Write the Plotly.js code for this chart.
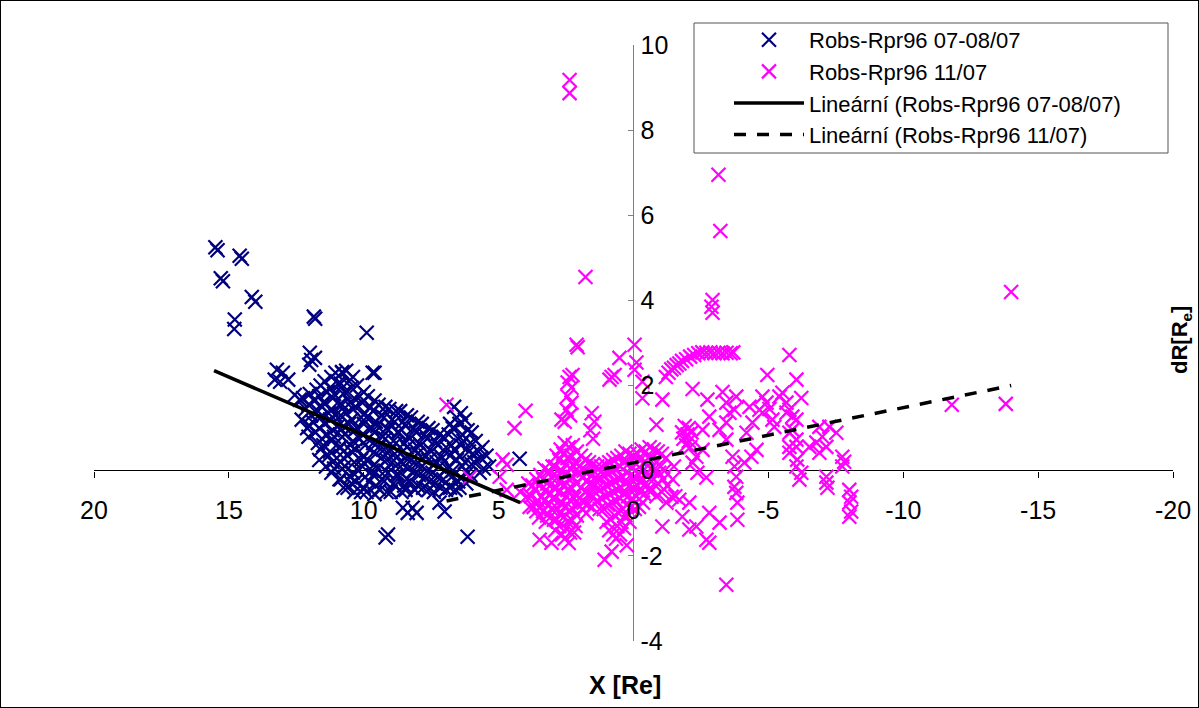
<!DOCTYPE html>
<html>
<head>
<meta charset="utf-8">
<script src="https://cdn.plot.ly/plotly-3.0.1.min.js"></script>
<style>
html,body{margin:0;padding:0;background:#fff;}
#wrap{position:relative;width:1199px;height:708px;}
#chart{width:1199px;height:708px;}
#frame{position:absolute;left:0;top:0;width:1199px;height:708px;box-sizing:border-box;border:1px solid #000;pointer-events:none;}
</style>
</head>
<body>
<div id="wrap"><div id="chart"></div><div id="frame"></div></div>
<script>
// Series 1: Robs-Rpr96 07-08/07 (navy)
const blueX = [
15.50,15.42,14.60,14.52,15.30,15.22,14.15,14.02,14.78,14.80,11.85,11.80,9.89,12.00,11.81,11.95,12.02,
13.22,13.00,13.30,13.10,12.80,12.56,12.37,9.67,10.80,9.60,9.10,9.19,6.15,8.55,8.19,8.37,8.04,7.19,7.00,4.22,
12.25,12.15,12.30,12.10,
11.75,11.85,11.70,11.90,11.80,11.70,
11.45,11.35,11.50,11.30,11.45,11.35,11.50,11.30,11.40,
11.05,10.95,11.10,10.90,11.05,10.95,11.10,10.90,11.00,11.10,10.90,
10.65,10.55,10.70,10.50,10.65,10.55,10.70,10.50,10.60,10.70,10.50,10.60,
10.25,10.15,10.30,10.10,10.25,10.15,10.30,10.10,10.20,10.30,10.10,
9.85,9.75,9.90,9.70,9.85,9.75,9.90,9.70,9.80,9.90,
9.45,9.35,9.50,9.30,9.45,9.35,9.50,9.30,9.40,
9.05,8.95,9.10,8.90,9.05,8.95,9.10,8.90,9.00,
8.65,8.55,8.70,8.50,8.65,8.55,8.70,8.50,8.60,
8.25,8.15,8.30,8.10,8.25,8.15,8.30,8.10,
7.85,7.75,7.90,7.70,7.85,7.75,7.80,
7.45,7.35,7.50,7.30,7.45,7.35,7.40,
7.05,6.95,7.10,6.90,7.05,6.95,
6.65,6.55,6.70,6.50,6.65,6.55,6.70,6.50,6.60,
6.25,6.15,6.30,6.10,6.25,6.15,6.20,
5.85,5.75,5.90,5.70,
5.45,5.35,
12.00,12.05,11.95,12.00,12.05,
11.60,11.65,11.55,11.60,11.65,11.55,11.60,11.65,
11.20,11.25,11.15,11.20,11.25,11.15,11.20,11.25,11.15,11.20,
10.80,10.85,10.75,10.80,10.85,10.75,10.80,10.85,10.75,10.80,10.85,10.75,
10.40,10.45,10.35,10.40,10.45,10.35,10.40,10.45,10.35,10.40,10.45,10.35,
10.00,10.05,9.95,10.00,10.05,9.95,10.00,10.05,9.95,10.00,
9.60,9.65,9.55,9.60,9.65,9.55,9.60,9.65,9.55,9.60,
9.20,9.25,9.15,9.20,9.25,9.15,9.20,9.25,9.15,
8.80,8.85,8.75,8.80,8.85,8.75,8.80,8.85,
8.40,8.45,8.35,8.40,8.45,8.35,8.40,8.45,
8.00,8.05,7.95,8.00,8.05,7.95,8.00,
7.60,7.65,7.55,7.60,7.65,7.55,7.60,
7.20,7.25,7.15,7.20,7.25,7.15,
6.80,6.85,6.75,6.80,6.85,6.75,6.80,
6.40,6.45,6.35,6.40,6.45,6.35,6.40,6.45,
6.00,6.05,5.95,6.00,6.05,
5.60,5.65,5.55
];
const blueY = [
5.25,5.18,5.05,4.98,4.52,4.45,4.08,3.97,3.55,3.33,3.62,3.57,3.24,2.77,2.65,2.60,2.49,
2.37,2.30,2.14,2.09,2.14,1.78,1.67,2.30,2.32,2.30,-1.50,-1.57,-1.55,-0.87,-0.87,-0.99,-0.99,-0.75,-0.96,0.28,
1.70,1.45,1.20,1.00,
1.90,1.65,1.40,1.15,0.90,0.65,
2.10,1.85,1.60,1.35,1.10,0.85,0.60,0.35,0.10,
2.30,2.05,1.80,1.55,1.30,1.05,0.80,0.55,0.30,0.05,-0.20,
2.35,2.10,1.85,1.60,1.35,1.10,0.85,0.60,0.35,0.10,-0.15,-0.40,
2.00,1.75,1.50,1.25,1.00,0.75,0.50,0.25,0.00,-0.25,-0.50,
1.75,1.50,1.25,1.00,0.75,0.50,0.25,0.00,-0.25,-0.50,
1.55,1.30,1.05,0.80,0.55,0.30,0.05,-0.20,-0.45,
1.45,1.20,0.95,0.70,0.45,0.20,-0.05,-0.30,-0.50,
1.40,1.15,0.90,0.65,0.40,0.15,-0.10,-0.35,-0.50,
1.25,1.00,0.75,0.50,0.25,0.00,-0.25,-0.45,
1.10,0.85,0.60,0.35,0.10,-0.15,-0.40,
0.95,0.70,0.45,0.20,-0.05,-0.30,-0.50,
0.80,0.55,0.30,0.05,-0.20,-0.45,
1.50,1.25,1.00,0.75,0.50,0.25,0.00,-0.25,-0.45,
1.20,0.95,0.70,0.45,0.20,-0.05,-0.30,
0.70,0.45,0.20,-0.05,
0.35,0.10,
1.80,1.55,1.30,1.05,0.80,
2.00,1.75,1.50,1.25,1.00,0.75,0.50,0.25,
2.20,1.95,1.70,1.45,1.20,0.95,0.70,0.45,0.20,-0.05,
2.30,2.05,1.80,1.55,1.30,1.05,0.80,0.55,0.30,0.05,-0.20,-0.40,
2.20,1.95,1.70,1.45,1.20,0.95,0.70,0.45,0.20,-0.05,-0.30,-0.50,
1.85,1.60,1.35,1.10,0.85,0.60,0.35,0.10,-0.15,-0.40,
1.65,1.40,1.15,0.90,0.65,0.40,0.15,-0.10,-0.35,-0.55,
1.50,1.25,1.00,0.75,0.50,0.25,0.00,-0.25,-0.50,
1.40,1.15,0.90,0.65,0.40,0.15,-0.10,-0.35,
1.30,1.05,0.80,0.55,0.30,0.05,-0.20,-0.45,
1.15,0.90,0.65,0.40,0.15,-0.10,-0.35,
1.00,0.75,0.50,0.25,0.00,-0.25,-0.45,
0.85,0.60,0.35,0.10,-0.15,-0.40,
1.10,0.85,0.60,0.35,0.10,-0.15,-0.40,
1.35,1.10,0.85,0.60,0.35,0.10,-0.15,-0.40,
0.90,0.65,0.40,0.15,-0.10,
0.55,0.30,0.05
];

// Series 2: Robs-Rpr96 11/07 (magenta)
const pinkX = [
2.37,2.37,-3.15,-3.22,1.78,-2.93,-2.89,-2.93,2.11,2.07,2.37,2.26,2.44,0.52,0.81,0.70,0.89,-0.04,-0.11,-0.04,
-0.33,-0.33,-0.85,-1.07,-2.19,-3.30,-4.96,-5.78,-6.04,-6.22,-11.80,-13.80,-14.00,-3.44,1.07,0.81,3.48,3.04,
6.93,4.00,4.41,4.85,4.70,4.96,6.07,4.70,2.48,2.67,2.55,
-1.20,-1.30,-1.40,-1.50,-1.60,-1.70,-1.80,-1.95,-2.10,-2.25,-2.40,-2.55,-2.70,-2.85,-3.00,-3.15,-3.30,-3.45,-3.60,-3.70,
2.30,2.45,2.30,2.35,1.55,1.45,1.60,1.50,
4.20,3.90,3.95,3.85,3.60,3.65,3.55,3.60,
3.30,3.35,3.25,3.30,3.35,3.25,
3.00,3.05,2.95,3.00,3.05,2.95,
2.70,2.75,2.65,2.70,2.75,2.65,2.70,2.75,2.65,
2.40,2.45,2.35,2.40,2.45,2.35,2.40,2.45,2.35,2.40,
2.10,2.15,2.05,2.10,2.15,2.05,2.10,2.15,
1.80,1.85,1.75,1.80,1.85,1.75,
1.50,1.55,1.45,1.50,1.55,
1.20,1.25,1.15,1.20,1.25,
0.90,0.95,0.85,0.90,0.95,0.85,0.90,
0.60,0.65,0.55,0.60,0.65,0.55,0.60,0.65,
0.30,0.35,0.25,0.30,0.35,0.25,0.30,0.35,0.25,
0.00,0.05,-0.05,0.00,0.05,-0.05,
-0.30,-0.25,-0.35,-0.30,-0.25,-0.35,
-0.60,-0.55,-0.65,-0.60,-0.55,
-0.90,-0.85,-0.95,-0.90,-0.85,
-1.20,-1.15,-1.25,
-1.50,-1.45,-1.55,
-1.90,-2.05,-1.80,-2.00,-2.15,-1.85,-2.05,-1.95,-2.10,
-2.74,-2.81,-2.56,-3.19,-3.44,-3.56,-3.74,-3.44,-2.56,-2.33,-4.30,-4.41,-4.67,-4.78,-4.19,-4.11,-4.37,-4.56,-3.44,-3.81,
-3.67,-3.74,-3.81,-3.74,-3.81,-3.85,-3.85,
-2.19,-2.37,-2.70,-1.70,-2.07,-1.81,-2.07,-2.33,-2.70,-2.81,-2.81,-3.19,-1.07,-1.22,-1.41,
-5.41,-5.67,-5.89,-6.04,-5.78,
-4.93,-4.78,-5.04,-5.15,-5.22,-5.52,-5.67,-5.78,-5.89,-6.04,-5.78,-6.04,-5.78,-6.07,-6.04,-6.22,-6.15,
-6.52,-6.78,-7.00,-6.89,-7.26,-7.52,-7.15,-6.89,-7.15,-7.15,-7.19,-7.74,-7.81,-7.74,
-8.00,-8.07,-8.00,-8.07,-8.00,
3.75,3.80,3.70,
3.45,3.50,3.40,3.45,3.50,
3.15,3.20,3.10,3.15,3.20,
2.85,2.90,2.80,2.85,2.90,2.80,2.85,2.90,
2.55,2.60,2.50,2.55,2.60,2.50,2.55,2.60,2.50,2.55,
2.25,2.30,2.20,2.25,2.30,2.20,2.25,2.30,2.20,
1.95,2.00,1.90,1.95,2.00,1.90,
1.65,1.70,1.60,1.65,1.70,
1.35,1.40,1.30,1.35,
1.05,1.10,1.00,1.05,1.10,1.00,
0.75,0.80,0.70,0.75,0.80,0.70,0.75,
0.45,0.50,0.40,0.45,0.50,0.40,0.45,0.50,
0.15,0.20,0.10,0.15,0.20,0.10,0.15,
-0.15,-0.10,-0.20,-0.15,-0.10,-0.20,
-0.45,-0.40,-0.50,-0.45,-0.40,
-0.75,-0.70,-0.80,-0.75,-0.70,
-1.05,-1.00,-1.10,-1.05
];
const pinkY = [
9.18,8.87,6.95,5.63,4.55,4.01,3.85,3.71,2.96,2.90,2.20,2.25,2.07,2.65,2.20,2.25,2.14,2.96,2.54,2.37,
2.09,1.70,1.08,1.67,1.92,1.85,2.25,2.72,2.14,1.71,1.55,1.57,4.20,-2.68,-2.09,-1.90,-1.62,-1.69,
1.55,1.41,1.00,0.26,0.14,-0.14,-0.16,-0.45,1.43,1.20,1.15,
2.20,2.30,2.38,2.42,2.48,2.52,2.58,2.62,2.68,2.72,2.76,2.78,2.77,2.78,2.76,2.77,2.76,2.77,2.76,2.78,
1.95,1.75,1.60,1.30,1.35,1.15,0.95,0.75,
-0.50,-0.30,-0.60,-0.85,-0.20,-0.45,-0.70,-0.95,
0.05,-0.20,-0.45,-0.70,-0.95,-1.20,
0.10,-0.15,-0.40,-0.65,-0.90,-1.15,
0.50,0.25,0.00,-0.25,-0.50,-0.75,-1.00,-1.30,-1.50,
0.55,0.30,0.05,-0.20,-0.45,-0.70,-0.95,-1.20,-1.45,-1.70,
0.45,0.20,-0.05,-0.30,-0.55,-0.80,-1.05,-1.30,
0.25,0.00,-0.25,-0.50,-0.75,-1.00,
0.15,-0.10,-0.35,-0.60,-0.85,
0.10,-0.15,-0.40,-0.65,-0.90,
0.20,-0.05,-0.30,-0.55,-0.80,-1.15,-1.40,
0.30,0.05,-0.20,-0.45,-0.70,-1.00,-1.30,-1.60,
0.45,0.20,-0.05,-0.30,-0.55,-0.80,-1.05,-1.35,-1.75,
0.35,0.10,-0.15,-0.40,-0.65,-0.90,
0.50,0.25,0.00,-0.25,-0.50,-0.75,
0.55,0.30,0.05,-0.20,-0.45,
0.45,0.20,-0.05,-0.30,-0.60,
0.30,0.00,-0.35,
0.10,-0.20,-0.60,
1.05,1.00,0.90,0.85,0.90,0.75,0.70,0.60,0.55,
1.67,1.27,0.96,0.96,1.13,1.36,1.43,0.73,0.49,0.33,1.50,1.13,1.43,1.74,0.89,0.19,0.33,0.49,1.60,1.74,
0.33,0.10,-0.14,-0.38,-0.52,-0.75,-1.15,
0.19,-0.05,-0.16,-0.68,-0.75,-1.08,-1.38,-1.31,-1.62,-1.69,-0.99,-1.22,-1.31,-0.75,-0.61,
1.74,1.36,0.96,0.73,0.56,
1.60,1.36,1.45,1.20,1.03,1.83,1.60,1.43,1.27,1.20,0.89,0.56,0.42,0.26,0.10,-0.05,-0.21,
0.56,0.66,0.80,1.03,1.03,0.89,0.56,0.42,-0.14,-0.28,-0.40,0.33,0.21,0.10,
-0.45,-0.61,-0.75,-0.96,-1.08,
-0.35,-0.60,-0.85,
-0.10,-0.35,-0.60,-0.85,-1.10,
0.00,-0.30,-0.55,-0.80,-1.05,
0.35,0.10,-0.15,-0.40,-0.65,-0.90,-1.15,-1.40,
0.65,0.40,0.15,-0.10,-0.35,-0.60,-0.85,-1.10,-1.35,-1.60,
0.60,0.35,0.10,-0.15,-0.40,-0.65,-0.90,-1.15,-1.45,
0.35,0.10,-0.15,-0.40,-0.65,-0.90,
0.20,-0.05,-0.30,-0.55,-0.80,
0.10,-0.15,-0.40,-0.70,
0.15,-0.10,-0.35,-0.60,-0.90,-1.20,
0.25,0.00,-0.25,-0.50,-0.75,-1.05,-1.50,
0.35,0.10,-0.15,-0.40,-0.65,-0.90,-1.20,-1.50,
0.40,0.15,-0.10,-0.35,-0.60,-0.85,-1.20,
0.40,0.15,-0.10,-0.35,-0.60,-0.85,
0.45,0.20,-0.05,-0.30,-0.55,
0.50,0.30,0.05,-0.20,-0.45,
0.40,0.10,-0.20,-0.50
];

// Linear trend lines (end points)
const trend1X = [15.55, 4.20];
const trend1Y = [2.35, -0.75];
const trend2X = [6.93, -14.00];
const trend2Y = [-0.71, 2.00];

// Axis ticks (hyphen minus as in the original)
const xTickVals = [20, 15, 10, 5, 0, -5, -10, -15, -20];
const xTickText = ['20', '15', '10', '5', '0', '-5', '-10', '-15', '-20'];
const yTickVals = [-4, -2, 0, 2, 4, 6, 8, 10];
const yTickText = ['-4', '-2', '0', '2', '4', '6', '8', '10'];

const names = ['Robs-Rpr96 07-08/07','Robs-Rpr96 11/07','Lineární (Robs-Rpr96 07-08/07)','Lineární (Robs-Rpr96 11/07)'];
const NAVY = '#000080', MAG = '#FF00FF';

const traces = [
  {x: blueX, y: blueY, type:'scatter', mode:'markers', name:names[0],
   marker:{symbol:'x-thin', size:14, color:NAVY, line:{color:NAVY, width:2.2}}},
  {x: pinkX, y: pinkY, type:'scatter', mode:'markers', name:names[1],
   marker:{symbol:'x-thin', size:14, color:MAG, line:{color:MAG, width:2.2}}},
  {x: trend1X, y: trend1Y, type:'scatter', mode:'lines', name:names[2],
   line:{color:'#000', width:3.5}},
  {x: trend2X, y: trend2Y, type:'scatter', mode:'lines', name:names[3],
   line:{color:'#000', width:3.5, dash:'12px,11px'}}
];

const L = 94, T = 45, W = 1079, H = 596;
const px = v => (v - L) / W;          // pixel x -> paper x
const py = v => (H + T - v) / H;      // pixel y -> paper y
const layout = {
  width:1199, height:708,
  margin:{l:L, r:1199-L-W, t:T, b:708-T-H, pad:0},
  paper_bgcolor:'#fff', plot_bgcolor:'#fff',
  font:{family:'"Liberation Sans", Arial, sans-serif', color:'#000'},
  showlegend:true,
  xaxis:{range:[20,-20], tickmode:'array', tickvals:xTickVals, ticktext:xTickText,
    showgrid:false, showline:false,
    zeroline:true, zerolinecolor:'#808080', zerolinewidth:1,
    anchor:'free', position:4/14, side:'bottom',
    ticks:'outside', ticklen:6, tickwidth:1, tickcolor:'#000',
    tickfont:{size:25}, ticklabelstandoff:11, fixedrange:true},
  yaxis:{range:[-4,10], tickmode:'array', tickvals:yTickVals, ticktext:yTickText,
    showgrid:false, showline:false,
    zeroline:true, zerolinecolor:'#000', zerolinewidth:1,
    anchor:'free', position:0.5, side:'right',
    ticks:'inside', ticklen:6, tickwidth:1, tickcolor:'#808080',
    tickfont:{size:25}, ticklabelstandoff:6, fixedrange:true},
  legend:{x:px(729), y:py(19), xanchor:'left', yanchor:'top',
    bgcolor:'rgba(0,0,0,0)', borderwidth:0,
    font:{size:22}, itemwidth:70, tracegroupgap:0},
  shapes:[
    {type:'rect', xref:'paper', yref:'paper', x0:px(694), x1:px(1168), y0:py(153), y1:py(23),
     layer:'above', fillcolor:'#fff', line:{color:'#555', width:1}}
  ],
  annotations:[
    {text:'<b>X [Re]</b>', xref:'paper', yref:'paper', x:px(625), y:py(685),
     showarrow:false, font:{size:25}, xanchor:'center', yanchor:'middle'},
    {text:'<b>dR[R<sub>e</sub>]</b>', xref:'paper', yref:'paper', x:px(1181), y:py(340),
     showarrow:false, textangle:-90, font:{size:22}, xanchor:'center', yanchor:'middle'}
  ]
};

Plotly.newPlot('chart', traces, layout, {displayModeBar:false, staticPlot:true});
</script>
</body>
</html>
